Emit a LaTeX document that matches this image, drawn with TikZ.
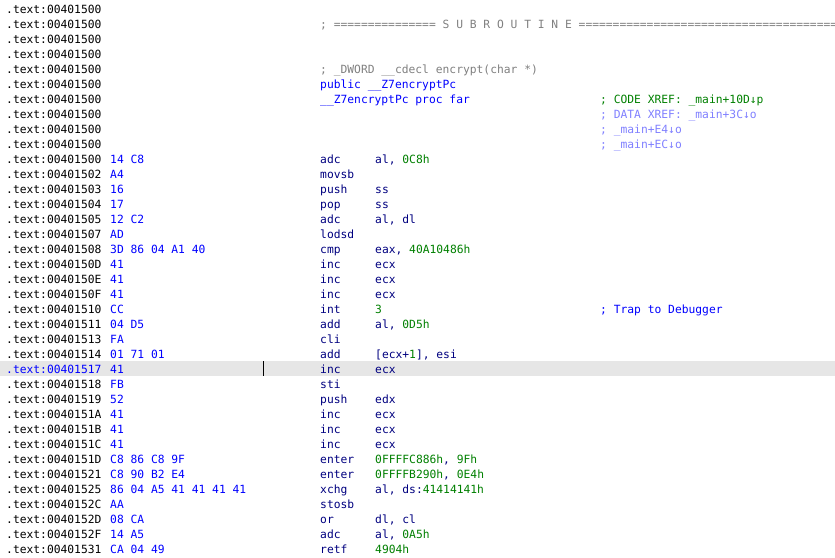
\documentclass[tikz,border=0pt]{standalone}
\usepackage{fontspec}
\setmainfont{DejaVu Sans Mono}
\definecolor{navy}{RGB}{0,0,128}
\definecolor{bblue}{RGB}{0,0,255}
\definecolor{grn}{RGB}{0,128,0}
\definecolor{cgrey}{RGB}{128,128,128}
\definecolor{xref}{RGB}{128,128,255}
\definecolor{hl}{RGB}{230,230,230}
\newcommand{\nm}[1]{\textcolor{grn}{#1}}
\tikzset{t/.style={anchor=base west,inner sep=0pt,font=\fontsize{11.3}{13}\selectfont}}
\newcommand{\Ln}[6][black]{%
 \node[t,text=#1] (a#2) at (6,{-13-15*#2}) {.text:#3};
 \node[t,text=bblue] (b#2) at (110,{-13-15*#2}) {#4};
 \node[t,text=navy] (m#2) at (320,{-13-15*#2}) {#5};
 \node[t,text=navy] (o#2) at (375,{-13-15*#2}) {#6};}
\begin{document}
\begin{tikzpicture}[x=1pt,y=1pt]
\useasboundingbox[fill=white] (0,0) rectangle (835,-557);
\fill[hl] (0,-361) rectangle (835,-376);
\fill[black] (262.5,-361) rectangle (264,-376);
\foreach \i in {0,...,9} {\node[t] (h\i) at (6,{-13-15*\i}) {.text:00401500};}
\node[t,text=cgrey] (sub) at (320,-28) {; =============== S U B R O U T I N E =======================================};
\node[t,text=cgrey] (dw) at (320,-73) {; \_DWORD \_\_cdecl encrypt(char *)};
\node[t,text=bblue] (pub) at (320,-88) {public \_\_Z7encryptPc};
\node[t,text=bblue] (proc) at (320,-103) {\_\_Z7encryptPc proc far};
\node[t,text=grn] (c1) at (600,-103) {; CODE XREF: \_main+10D↓p};
\node[t,text=xref] (c2) at (600,-118) {; DATA XREF: \_main+3C↓o};
\node[t,text=xref] (c3) at (600,-133) {; \_main+E4↓o};
\node[t,text=xref] (c4) at (600,-148) {; \_main+EC↓o};
\Ln{10}{00401500}{14 C8}{adc}{al, \nm{0C8h}}
\Ln{11}{00401502}{A4}{movsb}{}
\Ln{12}{00401503}{16}{push}{ss}
\Ln{13}{00401504}{17}{pop}{ss}
\Ln{14}{00401505}{12 C2}{adc}{al, dl}
\Ln{15}{00401507}{AD}{lodsd}{}
\Ln{16}{00401508}{3D 86 04 A1 40}{cmp}{eax, \nm{40A10486h}}
\Ln{17}{0040150D}{41}{inc}{ecx}
\Ln{18}{0040150E}{41}{inc}{ecx}
\Ln{19}{0040150F}{41}{inc}{ecx}
\Ln{20}{00401510}{CC}{int}{\nm{3}}
\node[t,text=bblue] (trap) at (600,-313) {; Trap to Debugger};
\Ln{21}{00401511}{04 D5}{add}{al, \nm{0D5h}}
\Ln{22}{00401513}{FA}{cli}{}
\Ln{23}{00401514}{01 71 01}{add}{[ecx+\nm{1}], esi}
\Ln[bblue]{24}{00401517}{41}{inc}{ecx}
\Ln{25}{00401518}{FB}{sti}{}
\Ln{26}{00401519}{52}{push}{edx}
\Ln{27}{0040151A}{41}{inc}{ecx}
\Ln{28}{0040151B}{41}{inc}{ecx}
\Ln{29}{0040151C}{41}{inc}{ecx}
\Ln{30}{0040151D}{C8 86 C8 9F}{enter}{\nm{0FFFFC886h}, \nm{9Fh}}
\Ln{31}{00401521}{C8 90 B2 E4}{enter}{\nm{0FFFFB290h}, \nm{0E4h}}
\Ln{32}{00401525}{86 04 A5 41 41 41 41}{xchg}{al, ds:\nm{41414141h}}
\Ln{33}{0040152C}{AA}{stosb}{}
\Ln{34}{0040152D}{08 CA}{or}{dl, cl}
\Ln{35}{0040152F}{14 A5}{adc}{al, \nm{0A5h}}
\Ln{36}{00401531}{CA 04 49}{retf}{\nm{4904h}}
\end{tikzpicture}
\end{document}
